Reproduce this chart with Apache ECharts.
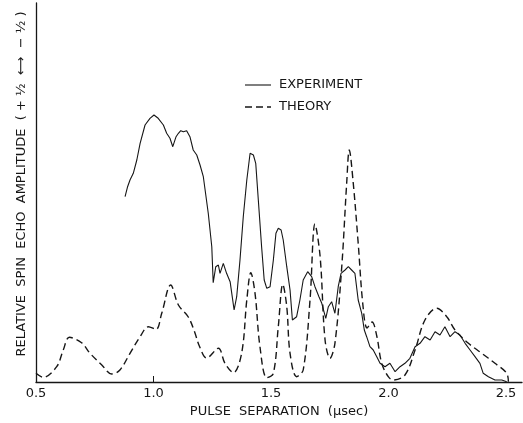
<!DOCTYPE html>
<html>
<head>
<meta charset="utf-8">
<title>Spin echo amplitude vs pulse separation</title>
<script src="https://cdn.jsdelivr.net/npm/echarts@6/dist/echarts.min.js"></script>
<style>
  html, body { margin: 0; padding: 0; background: #ffffff; }
  #chart { width: 523px; height: 423px; }
</style>
</head>
<body>
<div id="chart"></div>
<script>
// Pulse separation (µsec) and relative echo amplitude (arbitrary units)
const theoryX = [0.500, 0.531, 0.588, 0.616, 0.642, 0.694, 0.730, 0.780, 0.822, 0.857,
  0.900, 0.943, 0.978, 1.011, 1.035, 1.073, 1.106, 1.148, 1.175, 1.195,
  1.226, 1.276, 1.304, 1.340, 1.375, 1.397, 1.414, 1.432, 1.453, 1.482,
  1.510, 1.531, 1.550, 1.567, 1.581, 1.609, 1.637, 1.666, 1.687, 1.709,
  1.730, 1.751, 1.772, 1.801, 1.822, 1.833, 1.850, 1.871, 1.891, 1.909,
  1.930, 1.950, 1.971, 1.999, 2.020, 2.070, 2.113, 2.155, 2.205, 2.248,
  2.283, 2.340, 2.397, 2.453, 2.503, 2.510];
const theoryY = [8.7, 4.7, 15.3, 32, 44.7, 39.3, 28.7, 17, 8, 12,
  28.7, 45.3, 55.3, 52.7, 68.7, 97, 77, 65, 50, 36,
  24, 33.7, 18.7, 9.3, 28.7, 82, 109.3, 88.7, 35.3, 4.3,
  8.7, 55.3, 97.7, 75.3, 28.7, 5.3, 12, 82, 158, 125.3,
  42, 23.7, 38.7, 115.3, 198.7, 232, 198.7, 138.7, 77, 54,
  60, 46, 18.7, 5.3, 2, 7, 32, 62, 73.7, 65.3,
  52, 38.7, 28.7, 18.7, 8.7, 0.3];

const experimentX = [0.879, 0.889, 0.900, 0.914, 0.929, 0.943, 0.964, 0.985, 1.002, 1.020,
  1.042, 1.056, 1.070, 1.082, 1.096, 1.106, 1.116, 1.127, 1.141, 1.155,
  1.169, 1.184, 1.198, 1.212, 1.233, 1.248, 1.254, 1.265, 1.276, 1.283,
  1.297, 1.311, 1.326, 1.335, 1.343, 1.354, 1.368, 1.382, 1.397, 1.411,
  1.425, 1.435, 1.446, 1.460, 1.471, 1.482, 1.496, 1.510, 1.521, 1.531,
  1.543, 1.552, 1.567, 1.581, 1.591, 1.609, 1.623, 1.637, 1.656, 1.673,
  1.687, 1.704, 1.716, 1.733, 1.744, 1.758, 1.772, 1.786, 1.798, 1.815,
  1.829, 1.843, 1.857, 1.871, 1.886, 1.897, 1.907, 1.921, 1.935, 1.950,
  1.964, 1.985, 2.006, 2.028, 2.049, 2.070, 2.091, 2.113, 2.134, 2.155,
  2.177, 2.198, 2.219, 2.240, 2.262, 2.283, 2.304, 2.326, 2.347, 2.368,
  2.389, 2.403, 2.425, 2.453, 2.482, 2.503];
const experimentY = [185.3, 194.7, 202, 208.7, 222, 238.7, 257, 263.7, 267, 263.7,
  257, 248.7, 243.7, 235.3, 245.3, 248.7, 251.3, 250.3, 251.3, 245.3,
  232, 227, 217, 205.3, 168.7, 135.3, 99.3, 115.3, 117, 108.7,
  118.7, 108.7, 100.3, 85.3, 72, 85.3, 122, 165.3, 202, 228.7,
  227, 218.7, 182, 135.3, 102, 93.7, 95.3, 122, 148.7, 153.7,
  152, 142, 115.3, 92, 62, 65.3, 82, 102, 110.3, 105.3,
  95.3, 85.3, 78.7, 63.7, 75.3, 80.3, 68.7, 95.3, 108.7, 112,
  115.3, 112, 108.7, 82, 68.7, 52, 45.3, 35.3, 32, 25.3,
  18.7, 15.3, 18.7, 10.3, 15.3, 18.7, 23.7, 35.3, 38.7, 45.3,
  42, 50.3, 47, 55.3, 45.3, 50.3, 47, 38.7, 32, 25.3,
  18.7, 8.7, 5.3, 2, 2, 0.3];

const xTickLabels = [0.5, 1.0, 1.5, 2.0, 2.5];
const seriesNames = ['EXPERIMENT', 'THEORY'];
const xTitle = 'PULSE  SEPARATION  (\u03BCsec)';
const yTitle = 'RELATIVE  SPIN  ECHO  AMPLITUDE  ( + \u00BD  \u27F7  \u2212 \u00BD )';

const pairs = (xs, ys) => xs.map((x, i) => [x, ys[i]]);

const ink = '#161616';
const font = 'DejaVu Sans';
const theoryDash = [7, 4];

// Hand-placed key: a short sample line beside each series name
function keyEntry(label, y, dash) {
  return [
    {
      type: 'line',
      shape: { x1: 245, y1: y, x2: 271, y2: y },
      style: { stroke: ink, lineWidth: dash ? 1.4 : 1.1, lineDash: dash || null }
    },
    {
      type: 'text',
      x: 279,
      y: y,
      style: { text: label, fontFamily: font, fontSize: 13, fill: ink, align: 'left', verticalAlign: 'middle' }
    }
  ];
}

const chart = echarts.init(document.getElementById('chart'), null, { renderer: 'canvas' });

chart.setOption({
  backgroundColor: '#ffffff',
  animation: false,
  grid: { left: 36, right: 1, top: 3, bottom: 41, containLabel: false },
  xAxis: {
    type: 'value',
    min: 0.5,
    max: 2.568,
    interval: 0.5,
    name: xTitle,
    nameLocation: 'middle',
    nameGap: 17,
    nameTextStyle: { fontFamily: font, fontSize: 13, color: ink },
    axisLine: { show: true, onZero: false, lineStyle: { color: ink, width: 1.3 } },
    axisTick: { show: true, inside: true, length: 6, customValues: [1.0], lineStyle: { color: ink, width: 1 } },
    axisLabel: {
      customValues: xTickLabels,
      formatter: v => v.toFixed(1),
      fontFamily: font, fontSize: 13, color: ink, margin: 5
    },
    splitLine: { show: false }
  },
  yAxis: {
    type: 'value',
    min: 0,
    max: 379,
    axisLine: { show: true, lineStyle: { color: ink, width: 1.3 } },
    axisTick: { show: false },
    axisLabel: { show: false },
    splitLine: { show: false }
  },
  graphic: [
    {
      type: 'text',
      x: 22,
      y: 184,
      rotation: Math.PI / 2,
      style: {
        text: yTitle,
        fontFamily: font,
        fontSize: 13,
        fill: ink,
        align: 'center',
        verticalAlign: 'middle'
      }
    },
    ...keyEntry(seriesNames[0], 85, null),
    ...keyEntry(seriesNames[1], 107, theoryDash)
  ],
  series: [
    {
      name: seriesNames[0],
      type: 'line',
      data: pairs(experimentX, experimentY),
      symbol: 'none',
      smooth: false,
      lineStyle: { color: ink, width: 1.1, type: 'solid' },
      itemStyle: { color: ink }
    },
    {
      name: seriesNames[1],
      type: 'line',
      data: pairs(theoryX, theoryY),
      symbol: 'none',
      smooth: 0.35,
      lineStyle: { color: ink, width: 1.4, type: theoryDash },
      itemStyle: { color: ink }
    }
  ]
});
</script>
</body>
</html>
